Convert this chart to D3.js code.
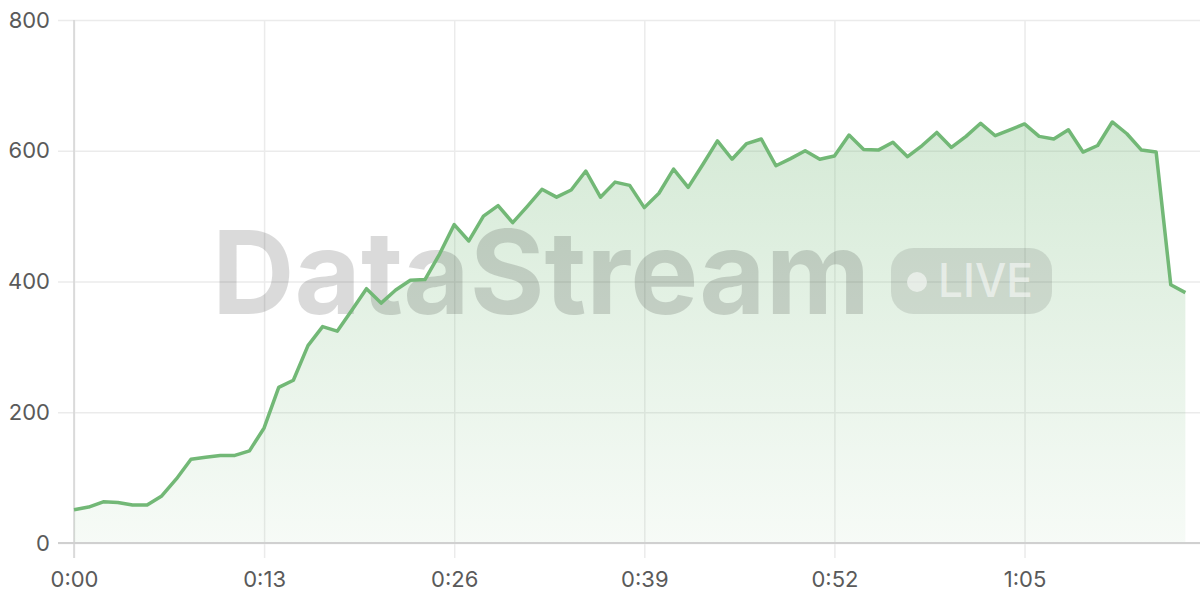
<!DOCTYPE html>
<html>
<head>
<meta charset="utf-8">
<script src="https://cdn.jsdelivr.net/npm/d3@7"></script>
<style>
  html, body { margin: 0; padding: 0; background: #fff; }
  svg { display: block; }
  .tick text { font-family: Inter, "Open Sans", sans-serif; font-size: 22px; fill: #5a5a5a; }
</style>
</head>
<body>
<div id="chart"></div>
<script>
// values per second
var seconds = d3.range(0, 77);
var values = [
    51, 55, 63, 62, 58, 58, 72, 98, 128, 131,
    134, 134, 141, 176, 238, 249, 302, 331, 324, 356,
    389, 367, 387, 402, 403, 442, 487, 462, 500, 516,
    490, 515, 541, 529, 540, 569, 529, 552, 547, 513,
    535, 572, 544, 579, 615, 587, 611, 618, 577, 588,
    600, 587, 592, 624, 602, 601, 613, 591, 608, 628,
    605, 622, 642, 623, 632, 641, 622, 618, 632, 598,
    608, 644, 626, 601, 598, 395, 383
];
var xTicks = [0, 13, 26, 39, 52, 65];
var yTicks = [0, 200, 400, 600, 800];

var width = 1200, height = 600;
var data = seconds.map(function (s, i) { return {t: s, value: values[i]}; });

function fmtTime(s) {
    return Math.floor(s / 60) + ":" + String(s % 60).padStart(2, "0");
}

var svg = d3.select("#chart").append("svg")
    .attr("width", width)
    .attr("height", height);

var xScale = d3.scaleLinear().domain([0, 77]).range([74, 1200]);
var yScale = d3.scaleLinear().domain([0, 800]).range([543, 20]);

var defs = svg.append("defs");
var grad = defs.append("linearGradient")
    .attr("id", "areaFill")
    .attr("x1", 0).attr("y1", 0).attr("x2", 0).attr("y2", 1);
grad.append("stop").attr("offset", "0%").attr("stop-color", "#72b876").attr("stop-opacity", 0.3);
grad.append("stop").attr("offset", "100%").attr("stop-color", "#72b876").attr("stop-opacity", 0.06);

// horizontal grid + y labels
var yAxis = d3.axisLeft(yScale)
    .tickValues(yTicks)
    .tickSize(-(1200 - 58))
    .tickPadding(8)
    .tickFormat(d3.format("d"));

svg.append("g")
    .attr("transform", "translate(58,0)")
    .call(yAxis)
    .call(function (g) { g.select(".domain").remove(); })
    .call(function (g) { g.selectAll(".tick line").attr("stroke", "#ebebeb").attr("stroke-width", 1.5); });

// vertical grid + x labels
var xAxis = d3.axisBottom(xScale)
    .tickValues(xTicks)
    .tickSize(-(558 - 20))
    .tickPadding(13)
    .tickFormat(fmtTime);

svg.append("g")
    .attr("transform", "translate(0,558)")
    .call(xAxis)
    .call(function (g) { g.select(".domain").remove(); })
    .call(function (g) { g.selectAll(".tick line").attr("stroke", "#ebebeb").attr("stroke-width", 1.5); });

// axis lines
svg.append("line")
    .attr("x1", xScale(0)).attr("x2", xScale(0))
    .attr("y1", yScale(800)).attr("y2", 558)
    .attr("stroke", "#d4d4d4").attr("stroke-width", 1.5);

var area = d3.area()
    .x(function (d) { return xScale(d.t); })
    .y0(yScale(0))
    .y1(function (d) { return yScale(d.value); });

var line = d3.line()
    .x(function (d) { return xScale(d.t); })
    .y(function (d) { return yScale(d.value); });

svg.append("path")
    .datum(data)
    .attr("d", area)
    .attr("fill", "url(#areaFill)");

svg.append("line")
    .attr("x1", 58).attr("x2", 1200)
    .attr("y1", yScale(0)).attr("y2", yScale(0))
    .attr("stroke", "#d0d0d0").attr("stroke-width", 2);

// watermark
var wm = svg.append("g").attr("opacity", 0.14);
wm.append("text")
    .attr("x", 212)
    .attr("y", 314)
    .attr("textLength", 658)
    .attr("lengthAdjust", "spacingAndGlyphs")
    .style("font-family", "Inter, 'Open Sans', sans-serif")
    .style("font-weight", 700)
    .style("font-size", "116px")
    .attr("fill", "#000")
    .text("DataStream");

var pill = svg.append("g");
pill.append("rect")
    .attr("x", 891).attr("y", 248)
    .attr("width", 161).attr("height", 66)
    .attr("rx", 22)
    .attr("fill", "#000").attr("fill-opacity", 0.1);
pill.append("circle")
    .attr("cx", 917).attr("cy", 282).attr("r", 10)
    .attr("fill", "#fff").attr("fill-opacity", 0.55);
pill.append("text")
    .attr("x", 938)
    .attr("y", 297)
    .attr("textLength", 95)
    .attr("lengthAdjust", "spacingAndGlyphs")
    .style("font-family", "Inter, 'Open Sans', sans-serif")
    .style("font-weight", 500)
    .style("font-size", "47px")
    .attr("fill", "#fff").attr("fill-opacity", 0.55)
    .text("LIVE");

svg.append("path")
    .datum(data)
    .attr("d", line)
    .attr("fill", "none")
    .attr("stroke", "#72b876")
    .attr("stroke-width", 3.5)
    .attr("stroke-linejoin", "round");
</script>
</body>
</html>
